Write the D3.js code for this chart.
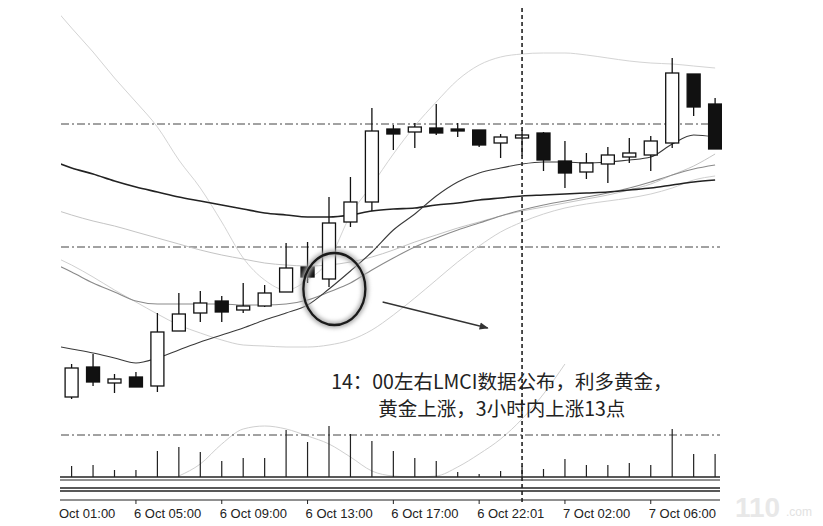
<!DOCTYPE html>
<html><head><meta charset="utf-8">
<script src="https://cdn.jsdelivr.net/npm/d3@7"></script>
<style>html,body{margin:0;padding:0;background:#fff;}svg{display:block;}</style>
</head><body>
<svg id="c" width="823" height="526"></svg>
<script>
// ---- data ----
const opens  = [1312.7,1315.7,1314.1,1314.7,1313.8,1319.3,1321.1,1322.3,1321.4,1321.8,1323.2,1325.7,1324.5,1330.2,1332.2,1339.5,1339.2,1339.6,1339.5,1339.4,1338.1,1338.6,1339.1,1336.3,1335.2,1336.0,1336.7,1336.9,1338.1,1345.0,1342.0];
const highs  = [1316.0,1317.0,1315.0,1315.2,1321.1,1323.1,1323.3,1322.8,1324.1,1323.9,1328.1,1328.2,1332.7,1334.7,1341.6,1339.9,1340.1,1342.0,1340.1,1339.4,1339.0,1339.4,1339.2,1338.3,1337.1,1337.7,1338.6,1338.8,1346.6,1345.0,1342.6];
const lows   = [1312.5,1313.8,1313.1,1313.7,1313.2,1319.3,1320.2,1320.2,1321.1,1321.7,1323.2,1324.1,1323.7,1329.7,1331.3,1337.4,1337.6,1338.9,1338.7,1337.7,1336.6,1336.8,1335.3,1333.6,1334.5,1334.1,1336.1,1335.3,1337.6,1340.8,1337.5];
const closes = [1315.6,1314.2,1314.5,1313.7,1319.2,1321.0,1322.1,1321.2,1321.8,1323.1,1325.6,1324.7,1330.1,1332.2,1339.3,1339.0,1339.7,1339.1,1339.3,1337.9,1338.7,1338.9,1336.4,1335.1,1336.1,1336.9,1337.1,1338.3,1345.1,1341.7,1337.5];
const volumes = [220,240,140,140,520,600,500,320,380,380,940,700,1020,860,720,520,380,320,100,60,120,220,160,360,240,240,280,240,960,460,460];
// indicator lines, index -1 .. 30
const maSlow = [1336.4,1335.6,1335.0,1334.3,1333.7,1333.2,1332.7,1332.3,1331.9,1331.5,1331.1,1330.9,1330.7,1330.7,1330.9,1331.3,1331.5,1331.6,1331.9,1332.1,1332.4,1332.6,1332.8,1332.9,1333.0,1333.1,1333.2,1333.4,1333.6,1333.9,1334.2,1334.4];
const maFast = [1317.9,1317.5,1317.1,1316.6,1316.1,1316.6,1317.4,1318.2,1318.9,1319.6,1320.4,1321.1,1321.9,1323.5,1325.3,1327.2,1329.4,1331.0,1332.8,1334.2,1335.1,1335.6,1336.0,1336.2,1336.2,1336.1,1336.2,1336.4,1336.7,1338.0,1338.9,1338.7];
const maMid  = [1326.2,1325.2,1324.1,1323.2,1322.3,1322.0,1322.0,1322.0,1322.0,1321.9,1321.9,1322.0,1322.4,1323.2,1324.1,1325.4,1326.6,1327.7,1328.6,1329.4,1330.1,1330.8,1331.4,1331.9,1332.3,1332.7,1333.1,1333.6,1334.2,1334.9,1335.5,1335.9];
const bandUp = [1352.1,1349.6,1347.2,1344.6,1342.2,1339.7,1336.4,1333.6,1330.2,1326.6,1324.4,1323.4,1324.4,1326.4,1330.9,1333.9,1337.0,1339.8,1342.2,1344.4,1345.9,1346.7,1347.0,1347.1,1347.1,1346.9,1346.6,1346.3,1346.1,1346.0,1345.8,1345.6];
const bandLow= [1326.9,1325.9,1324.7,1323.4,1322.2,1321.0,1319.9,1319.1,1318.4,1317.9,1317.8,1317.7,1317.7,1317.9,1318.4,1319.4,1320.9,1322.6,1324.4,1326.2,1327.8,1329.2,1330.2,1331.0,1331.6,1332.0,1332.3,1332.6,1333.0,1333.6,1334.4,1334.8];
const maLong = [1331.6,1330.9,1330.3,1329.8,1329.2,1328.6,1328.0,1327.4,1326.9,1326.5,1326.1,1325.9,1325.8,1325.9,1326.2,1326.7,1327.4,1328.2,1328.9,1329.6,1330.2,1330.8,1331.3,1331.7,1332.1,1332.5,1332.9,1333.4,1334.0,1334.9,1335.8,1337.0];
const oscIdx = [5,6,7,8,9,10,11,12,13,14,15,16,17,18,19,20,21,22,23];
const oscVal = [20,260,660,960,1020,960,820,660,400,120,20,0,20,200,460,760,1160,1660,2260];
const levels = [1340.0, 1327.7];
const volLevel = 840;
const tickIdx = [-1,3,7,11,15,19,23,27];
const tickLabels = ["6 Oct 01:00","6 Oct 05:00","6 Oct 09:00","6 Oct 13:00","6 Oct 17:00","6 Oct 22:01","7 Oct 02:00","7 Oct 06:00"];
const crossIdx = 21;
const noteLines = ["14：00左右LMCI数据公布，利多黄金，","黄金上涨，3小时内上涨13点"];

// ---- scales ----
const svg = d3.select("#c");
svg.append("rect").attr("width",823).attr("height",526).attr("fill","#fff");
const x = d3.scaleLinear().domain([0,30]).range([71.6,715.1]);
const y = d3.scaleLinear().domain([1352.4,1302.4]).range([0,500]);
const yv = d3.scaleLinear().domain([0,1000]).range([477,427]);
const left = 61, right = 722;

const defs = svg.append("defs");
defs.append("clipPath").attr("id","plot").append("rect").attr("x",left).attr("y",0).attr("width",right-left).attr("height",477);
defs.append("clipPath").attr("id","axis").append("rect").attr("x",59).attr("y",495).attr("width",700).attr("height",31);
const f = defs.append("filter").attr("id","blur").attr("x","-20%").attr("y","-20%").attr("width","140%").attr("height","140%");
f.append("feGaussianBlur").attr("stdDeviation",2.2);
defs.append("marker").attr("id","arr").attr("viewBox","0 0 10 10").attr("refX",9).attr("refY",5)
  .attr("markerWidth",9).attr("markerHeight",9).attr("orient","auto").attr("markerUnits","userSpaceOnUse")
  .append("path").attr("d","M0,1 L10,5 L0,9 Z").attr("fill","#333");

const plot = svg.append("g").attr("clip-path","url(#plot)");

// level lines
plot.selectAll("line.lvl").data(levels).join("line")
  .attr("x1",left).attr("x2",720).attr("y1",d=>y(d)).attr("y2",d=>y(d))
  .attr("stroke","#444").attr("stroke-width",1).attr("stroke-dasharray","8,3,2,3");

// indicator lines
const lineIdx = d3.range(-1,31);
const mk = arr => d3.line().x((d,i)=>x(lineIdx[i])).y(d=>y(d)).curve(d3.curveMonotoneX)(arr);
const lines = [
  {d:bandUp, c:"#d4d4d4", w:1},
  {d:bandLow, c:"#d0d0d0", w:1},
  {d:maLong, c:"#c4c4c4", w:1},
  {d:maMid, c:"#8a8a8a", w:1.1},
  {d:maSlow, c:"#222", w:1.6},
  {d:maFast, c:"#3a3a3a", w:1.1}
];
plot.selectAll("path.ma").data(lines).join("path")
  .attr("d",l=>mk(l.d)).attr("fill","none").attr("stroke",l=>l.c).attr("stroke-width",l=>l.w);

// oscillator curve (light) from volume pane
svg.append("path").attr("d", d3.line().x((d,i)=>x(oscIdx[i])).y(d=>yv(d)).curve(d3.curveMonotoneX)(oscVal))
  .attr("fill","none").attr("stroke","#cfcfcf").attr("stroke-width",1);

// candles
const bw = 13;
const cg = plot.selectAll("g.c").data(d3.range(31)).join("g");
cg.append("line").attr("x1",i=>x(i)).attr("x2",i=>x(i)).attr("y1",i=>y(highs[i])).attr("y2",i=>y(lows[i]))
  .attr("stroke","#111").attr("stroke-width",1.3);
cg.append("rect").attr("x",i=>x(i)-bw/2).attr("width",bw)
  .attr("y",i=>y(Math.max(opens[i],closes[i])))
  .attr("height",i=>Math.max(2,Math.abs(y(opens[i])-y(closes[i]))))
  .attr("fill",i=>closes[i]>=opens[i]?"#fff":"#111").attr("stroke","#111").attr("stroke-width",1.3);

// volume level
svg.append("line").attr("x1",left).attr("x2",720).attr("y1",yv(volLevel)).attr("y2",yv(volLevel))
  .attr("stroke","#444").attr("stroke-width",1).attr("stroke-dasharray","8,3,2,3");
// volume bars
svg.selectAll("line.v").data(volumes).join("line")
  .attr("x1",(d,i)=>x(i)).attr("x2",(d,i)=>x(i)).attr("y1",yv(0)).attr("y2",d=>yv(d))
  .attr("stroke","#222").attr("stroke-width",1.2);

// separator lines
[[477,1.4],[480,1],[488,1.4],[491,1.4],[500,1]].forEach(([yy,w])=>{
  svg.append("line").attr("x1",left-1).attr("x2",720).attr("y1",yy).attr("y2",yy).attr("stroke","#222").attr("stroke-width",w);
});

// crosshair
svg.append("line").attr("x1",x(crossIdx)).attr("x2",x(crossIdx)).attr("y1",8).attr("y2",505)
  .attr("stroke","#222").attr("stroke-width",1.6).attr("stroke-dasharray","4,3");

// axis ticks + labels
const ax = svg.append("g").attr("clip-path","url(#axis)");
ax.selectAll("line.t").data(tickIdx).join("line")
  .attr("x1",d=>x(d)).attr("x2",d=>x(d)).attr("y1",500).attr("y2",504).attr("stroke","#222");
ax.selectAll("text.t").data(tickIdx).join("text")
  .attr("x",d=>x(d)-2).attr("y",518).text((d,i)=>tickLabels[i])
  .attr("font-family","Liberation Sans, Arial, sans-serif").attr("font-size",13).attr("fill","#222");

// annotation: circle + arrow
const cx = x(12.25), cy = y(1323.5);
svg.append("ellipse").attr("cx",cx).attr("cy",cy).attr("rx",31).attr("ry",36)
  .attr("fill","none").attr("stroke","#aaa").attr("stroke-width",6).attr("filter","url(#blur)");
svg.append("ellipse").attr("cx",cx).attr("cy",cy).attr("rx",31).attr("ry",36)
  .attr("fill","none").attr("stroke","#1a1a1a").attr("stroke-width",2.3);
svg.append("line").attr("x1",x(14.5)).attr("y1",y(1322.2)).attr("x2",x(19.4)).attr("y2",y(1319.6))
  .attr("stroke","#333").attr("stroke-width",1.3).attr("marker-end","url(#arr)");

// note text
svg.append("text").attr("x",x(12.1)).attr("y",389).text(noteLines[0])
  .attr("font-family","Noto Sans CJK SC, sans-serif").attr("font-size",19.5).attr("fill","#222");
svg.append("text").attr("x",x(14.3)).attr("y",416).text(noteLines[1])
  .attr("font-family","Noto Sans CJK SC, sans-serif").attr("font-size",19.5).attr("fill","#222");

// watermark
svg.append("text").attr("x",735).attr("y",517).text("110")
  .attr("font-family","Liberation Sans, sans-serif").attr("font-weight","bold").attr("font-size",28).attr("fill","#e8e8e8");
svg.append("text").attr("x",786).attr("y",516).text(".com")
  .attr("font-family","Liberation Sans, sans-serif").attr("font-size",12).attr("fill","#e2e2e2");
</script>
</body></html>
